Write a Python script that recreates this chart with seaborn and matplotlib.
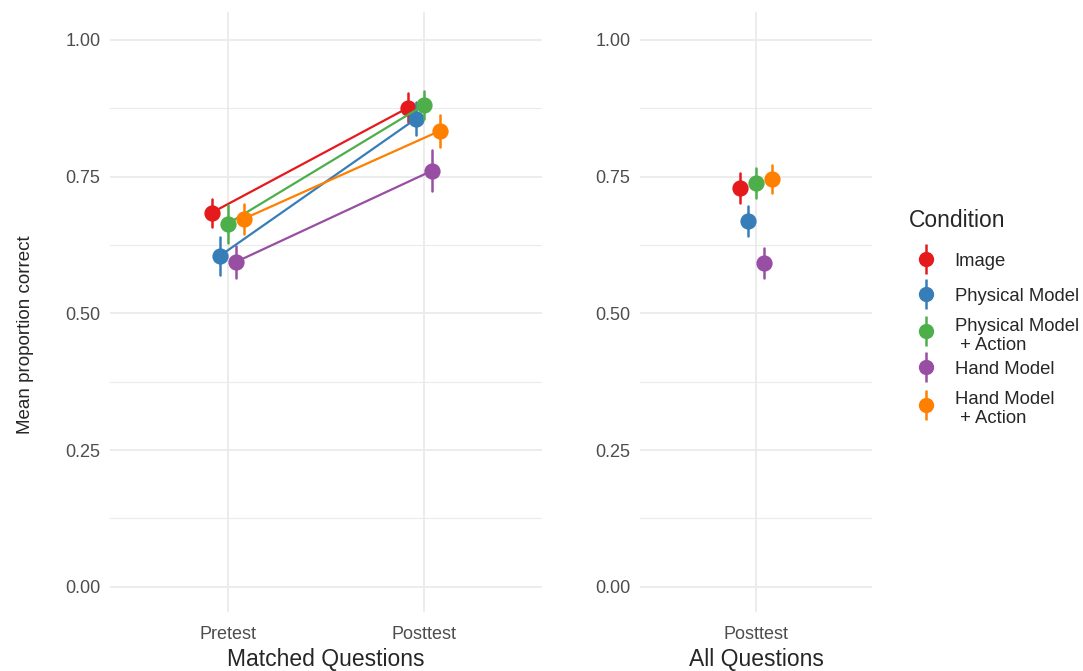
import numpy as np
import pandas as pd
import matplotlib
matplotlib.use("Agg")
import matplotlib.pyplot as plt
import seaborn as sns
from matplotlib.lines import Line2D
from matplotlib.legend_handler import HandlerTuple

# data
conditions = ["Image", "Physical Model", "Physical Model\n + Action",
              "Hand Model", "Hand Model\n + Action"]
colors = ["#E41A1C", "#377EB8", "#4DAF4A", "#984EA3", "#FF7F00"]

matched_tests = ["Pretest", "Posttest"]
matched_pre_mean = [0.684, 0.605, 0.664, 0.594, 0.673]
matched_pre_err = [0.026, 0.035, 0.035, 0.030, 0.027]
matched_post_mean = [0.876, 0.856, 0.881, 0.761, 0.834]
matched_post_err = [0.026, 0.030, 0.026, 0.038, 0.029]

all_tests = ["Posttest"]
all_post_mean = [0.729, 0.669, 0.738, 0.592, 0.746]
all_post_err = [0.027, 0.027, 0.027, 0.028, 0.026]


#two rows per point (mean - err, mean + err) so the mean and range come out right
def long_rows(test, means, errs):
    rows = []
    for cond, m, e in zip(conditions, means, errs):
        rows.append({"Test": test, "Condition": cond, "value": m - e})
        rows.append({"Test": test, "Condition": cond, "value": m + e})
    return rows


matched_df = pd.DataFrame(long_rows("Pretest", matched_pre_mean, matched_pre_err)
                          + long_rows("Posttest", matched_post_mean, matched_post_err))
all_df = pd.DataFrame(long_rows("Posttest", all_post_mean, all_post_err))


def value_range(v):
    return (v.min(), v.max())


sns.set_style("white")
plt.rcParams["font.family"] = ["Liberation Sans", "DejaVu Sans"]

fig = plt.figure(figsize=(10.83, 6.71), dpi=100)
bottom = 1 - 612 / 671
height = 600 / 671
ax1 = fig.add_axes([110 / 1083, bottom, 432 / 1083, height])
ax2 = fig.add_axes([640 / 1083, bottom, 232 / 1083, height])

point_kws = dict(x="Test", y="value", hue="Condition", hue_order=conditions,
                 palette=colors, dodge=0.164, errorbar=value_range,
                 markersize=10.5, linewidth=1.6, err_kws={"linewidth": 1.8},
                 legend=False)

sns.pointplot(data=matched_df, order=matched_tests, ax=ax1, **point_kws)
sns.pointplot(data=all_df, order=all_tests, ax=ax2, **point_kws)

for ax, n_cat, xlabel in [(ax1, 2, "Matched Questions"), (ax2, 1, "All Questions")]:
    ax.set_xlim(-0.6, n_cat - 0.4)
    ax.set_ylim(-0.046, 1.051)
    ax.set_yticks([0, 0.25, 0.5, 0.75, 1.0])
    ax.set_yticklabels(["0.00", "0.25", "0.50", "0.75", "1.00"])
    ax.set_yticks([0.125, 0.375, 0.625, 0.875], minor=True)
    ax.grid(axis="y", which="major", color="#EBEBEB", linewidth=1.3)
    ax.grid(axis="y", which="minor", color="#EBEBEB", linewidth=0.8)
    ax.grid(axis="x", which="major", color="#EBEBEB", linewidth=1.3)
    ax.set_axisbelow(True)
    for s in ax.spines.values():
        s.set_visible(False)
    ax.tick_params(which="both", length=0, labelsize=13, labelcolor="#4D4D4D")
    ax.tick_params(axis="x", pad=10)
    ax.tick_params(axis="y", pad=7)
    ax.set_xlabel(xlabel, fontsize=16.5, labelpad=4)
    ax.set_ylabel("")

ax1.set_ylabel("Mean proportion correct", fontsize=13.5, labelpad=22)
ax1.yaxis.label.set_y(0.462)

#legend: point with vertical error bar
handles = []
for c in colors:
    bar = Line2D([], [], marker="|", markersize=21, markeredgewidth=1.8,
                 color=c, linestyle="none")
    dot = Line2D([], [], marker="o", markersize=10, color=c, linestyle="none")
    handles.append((bar, dot))

leg = fig.legend(handles, conditions, handler_map={tuple: HandlerTuple(ndivide=1)},
                 loc="upper left", bbox_to_anchor=(901 / 1083, 1 - 202 / 671),
                 frameon=False, title="Condition", title_fontsize=16.5, fontsize=13.3,
                 alignment="left", handlelength=1.9, handleheight=2.4,
                 handletextpad=0.6, labelspacing=0.1, borderaxespad=0)
leg._legend_box.sep = 11
for t in leg.get_texts():
    t.set_linespacing(1.16)
    if "\n" not in t.get_text():
        t.set_y(4)

fig.savefig("out.png", dpi=100, facecolor="white")
